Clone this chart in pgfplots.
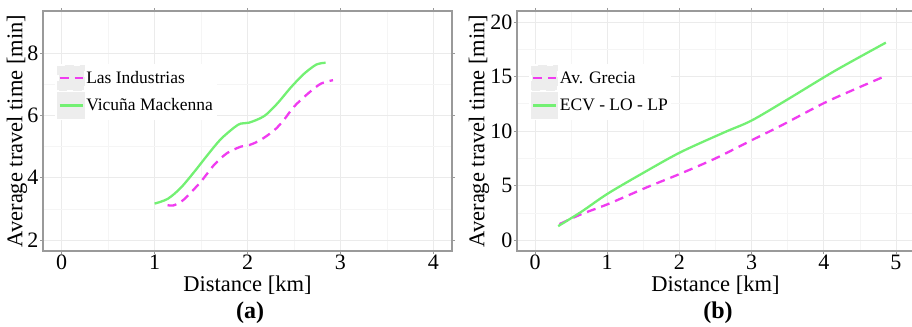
\documentclass[border=0pt]{standalone}
\usepackage{pgfplots}
\pgfplotsset{compat=1.18}
\usepackage{fontspec}
\setmainfont{Liberation Serif}
\newfontfamily\tnr{Liberation Serif}
\definecolor{mag}{HTML}{F03CF0}
\definecolor{grn}{HTML}{73F073}
\definecolor{frame}{HTML}{9A9A9A}
\pgfplotsset{
  myaxis/.style={
    scale only axis,
    anchor=south west,
    axis line style={frame, line width=1.2bp},
    tick align=outside,
    major tick length=3bp,
    minor tick length=0pt,
    tick style={frame, line width=0.8bp},
    minor tick num=1,
    grid=both,
    major grid style={black!8, line width=0.8bp},
    minor grid style={black!4, line width=0.6bp},
    /pgf/number format/assume math mode=true,
    ticklabel style={font=\tnr\fontsize{22bp}{24bp}\selectfont},
    xticklabel style={inner sep=1bp},
    yticklabel style={inner sep=1.5bp},
    every axis x label/.style={at={(axis description cs:0.5,0)}, anchor=center, yshift=-34bp, font=\tnr\fontsize{22.5bp}{24bp}\selectfont},
    legend cell align=left,
    legend style={draw=none, fill=white, font=\tnr\fontsize{17.5bp}{20bp}\selectfont, anchor=north west, inner xsep=2bp, inner ysep=1bp, row sep=1bp, nodes={inner sep=1.5bp}},
    legend image code/.code={
      \fill[black!7] (-1bp,-12bp) rectangle (24bp,12bp);
      \draw[##1] (0bp,0bp) -- (23bp,0bp);
    },
  },
  dashl/.style={mag, line width=2.3bp, dash pattern=on 9bp off 6bp, smooth},
  solidl/.style={grn, line width=2.3bp, smooth},
}
\begin{document}
\tnr
\begin{tikzpicture}
\useasboundingbox (0,0) rectangle (912bp,327bp);
\begin{axis}[myaxis,
  at={(43bp,76bp)}, width=409bp, height=240bp,
  xmin=-0.2, xmax=4.2, ymin=1.65, ymax=9.35,
  xtick={0,1,2,3,4}, ytick={2,4,6,8},
  xlabel={Distance [km]},
  ylabel={Average travel time [min]},
  every axis y label/.style={at={(axis description cs:0,0.5)}, xshift=-26bp, rotate=90, anchor=center, font=\tnr\fontsize{22.5bp}{24bp}\selectfont},
  legend style={at={(axis description cs:0.03,0.78)}},
]
\addplot[dashl] coordinates {
(1.14,3.12) (1.20,3.11) (1.28,3.22) (1.35,3.40) (1.50,3.88) (1.64,4.41) (1.78,4.79) (1.93,5.00) (2.02,5.05) (2.14,5.21) (2.29,5.53) (2.39,5.85) (2.50,6.28) (2.65,6.70) (2.79,7.02) (2.92,7.13)
};
\addlegendentry{Las Industrias}
\addplot[solidl] coordinates {
(1.00,3.17) (1.14,3.32) (1.28,3.67) (1.43,4.20) (1.57,4.73) (1.71,5.23) (1.86,5.62) (1.93,5.74) (2.02,5.77) (2.18,5.98) (2.32,6.38) (2.47,6.91) (2.61,7.34) (2.74,7.63) (2.84,7.69)
};
\addlegendentry{Vicuña Mackenna}
\end{axis}
\begin{axis}[myaxis,
  at={(517bp,76bp)}, width=397bp, height=240bp,
  xmin=-0.25, xmax=5.25, ymin=-1, ymax=21,
  xtick={0,1,2,3,4,5}, ytick={0,5,10,15,20},
  minor xtick={0.5,1.5,2.5,3.5,4.5}, minor ytick={2.5,7.5,12.5,17.5},
  xlabel={Distance [km]},
  ylabel={Average travel time [min]},
  every axis y label/.style={at={(axis description cs:0,0.5)}, xshift=-38bp, rotate=90, anchor=center, font=\tnr\fontsize{22.5bp}{24bp}\selectfont},
  legend style={at={(axis description cs:0.03,0.78)}},
]
\addplot[dashl] coordinates {
(0.34,1.47) (0.64,2.37) (1.01,3.30) (1.56,4.87) (2.00,6.05) (2.49,7.46) (3.00,9.15) (3.41,10.50) (4.00,12.55) (4.42,13.80) (4.84,15.00)
};
\addlegendentry{Av. Grecia}
\addplot[solidl] coordinates {
(0.32,1.28) (0.64,2.59) (1.01,4.27) (1.52,6.24) (2.02,8.07) (2.63,9.90) (3.00,10.96) (3.50,12.90) (4.15,15.50) (4.86,18.10)
};
\addlegendentry{ECV - LO - LP}
\end{axis}
\node[font=\tnr\fontsize{24bp}{26bp}\selectfont\bfseries] at (250bp,14bp) {(a)};
\node[font=\tnr\fontsize{24bp}{26bp}\selectfont\bfseries] at (718bp,14bp) {(b)};
\end{tikzpicture}
\end{document}
